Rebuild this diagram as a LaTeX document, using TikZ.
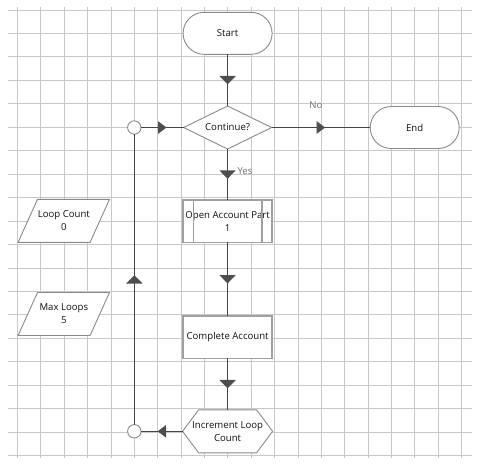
\documentclass[tikz,border=0pt]{standalone}
\usepackage{fontspec}
\setmainfont{Open Sans}
\usetikzlibrary{shapes.geometric,decorations.markings}
\definecolor{gridc}{HTML}{C8C8C8}
\definecolor{linec}{HTML}{464646}
\definecolor{arrc}{HTML}{4E4E4E}
\definecolor{borderc}{HTML}{8A8A8A}
\definecolor{boxc}{HTML}{A0A0A0}
\definecolor{lblc}{HTML}{707070}
\definecolor{txtc}{HTML}{101010}
\pgfdeclarelayer{gridlayer}
\pgfdeclarelayer{shapelayer}
\pgfsetlayers{gridlayer,shapelayer,main}
\begin{document}
\begin{tikzpicture}[x=1pt,y=-1pt,
  gridline/.style={gridc, line width=1pt},
  txt/.style={font=\fontsize{9.6}{13}\selectfont, align=center, text=txtc},
  term/.style={txt, draw=borderc, fill=white, line width=0.9pt, rectangle, rounded corners=21pt, minimum width=89pt, minimum height=42pt, inner sep=0pt, outer sep=0pt},
  decis/.style={txt, draw=borderc, fill=white, line width=0.9pt, diamond, aspect=2, minimum width=88pt, minimum height=43pt, inner sep=0pt, outer sep=0pt},
  proc/.style={txt, draw=boxc, fill=white, line width=1.5pt, rectangle, minimum width=89pt, minimum height=42.5pt, inner sep=0pt, outer sep=0pt},
  hexnode/.style={txt, rectangle, minimum width=90pt, minimum height=43pt, inner sep=0pt, outer sep=0pt},
  datanode/.style={txt, rectangle, minimum width=72pt, minimum height=43pt, inner sep=0pt, outer sep=0pt},
  shapeline/.style={draw=borderc, fill=white, line width=0.9pt, line join=miter},
  junc/.style={circle, draw=borderc, fill=white, line width=0.9pt, minimum size=13.4pt, inner sep=0pt, outer sep=0pt},
  conn/.style={draw=linec, line width=1.1pt},
  midarr/.style={postaction={decorate}, decoration={markings, mark=at position 0.5 with {\fill[arrc] (4.2,0) -- (-4.2,#1) -- (-4.2,-#1) -- cycle;}}},
  lbl/.style={font=\fontsize{9.6}{11}\selectfont, text=lblc, inner sep=0pt}
]
\useasboundingbox (0,0) rectangle (479,467);
\begin{pgfonlayer}{gridlayer}
\foreach \i in {0,...,19} {
  \draw[gridline] ({17.5+23.38*\i},7) -- ({17.5+23.38*\i},458);
  \draw[gridline] (8,{10+23.46*\i}) -- (472,{10+23.46*\i});
}
\end{pgfonlayer}

\node[term] (start) at (227.6,33.3) {Start};
\node[decis] (dec) at (227.6,127.5) {Continue?};
\node[term] (end) at (414.7,127.5) {End};
\node[junc] (c1) at (134.3,127.5) {};
\node[junc] (c2) at (134.3,431.3) {};
\node[proc] (oap) at (227.6,221.2) {Open Account Part\\1};
\node[proc] (ca) at (227.6,337.2) {Complete Account};
\node[hexnode] (inc) at (227.6,431.3) {Increment Loop\\Count};
\node[datanode] (lc) at (63.8,220.8) {Loop Count\\0};
\node[datanode] (ml) at (63.8,314) {Max Loops\\5};

\draw[boxc, line width=1.5pt] ([xshift=10.3pt]oap.north west) -- ([xshift=10.3pt]oap.south west);
\draw[boxc, line width=1.5pt] ([xshift=-10.3pt]oap.north east) -- ([xshift=-10.3pt]oap.south east);

\begin{pgfonlayer}{shapelayer}
\filldraw[shapeline] (inc.west) -- ([xshift=16pt]inc.north west) -- ([xshift=-16pt]inc.north east) -- (inc.east) -- ([xshift=-16pt]inc.south east) -- ([xshift=16pt]inc.south west) -- cycle;
\filldraw[shapeline] ([xshift=9.7pt]lc.north west) -- ([xshift=9.7pt]lc.north east) -- ([xshift=-9.7pt]lc.south east) -- ([xshift=-9.7pt]lc.south west) -- cycle;
\filldraw[shapeline] ([xshift=9.7pt]ml.north west) -- ([xshift=9.7pt]ml.north east) -- ([xshift=-9.7pt]ml.south east) -- ([xshift=-9.7pt]ml.south west) -- cycle;
\end{pgfonlayer}

\draw[conn, midarr=8.3] (start) -- (dec);
\draw[conn, midarr=6.3] (c1) -- (dec);
\draw[conn, midarr=6.3] (dec) -- (end);
\draw[conn, midarr=8.3] (dec) -- (oap);
\draw[conn, midarr=8.3] (oap) -- (ca);
\draw[conn, midarr=8.3] (ca) -- (inc);
\draw[conn, midarr=6.3] (inc) -- (c2);
\draw[conn, midarr=8.3] (c2) -- (c1);

\node[lbl] (nolbl) at (316,105) {No};
\node[lbl] (yeslbl) at (245,171) {Yes};
\end{tikzpicture}
\end{document}
